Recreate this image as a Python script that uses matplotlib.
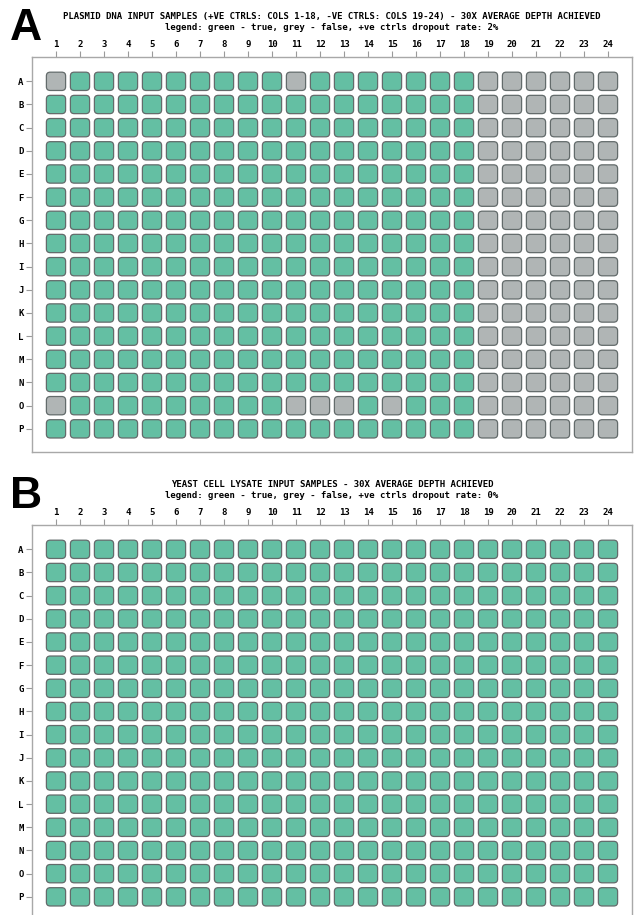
import matplotlib
matplotlib.use("Agg")
import matplotlib.pyplot as plt
from matplotlib.patches import FancyBboxPatch

# ---------------- data ----------------
rows = list("ABCDEFGHIJKLMNOP")
cols = list(range(1, 25))

# 1 = true (green), 0 = false (grey)
plasmid_wells = [
    "011111111101111111000000",  # A
    "111111111111111111000000",  # B
    "111111111111111111000000",  # C
    "111111111111111111000000",  # D
    "111111111111111111000000",  # E
    "111111111111111111000000",  # F
    "111111111111111111000000",  # G
    "111111111111111111000000",  # H
    "111111111111111111000000",  # I
    "111111111111111111000000",  # J
    "111111111111111111000000",  # K
    "111111111111111111000000",  # L
    "111111111111111111000000",  # M
    "111111111111111111000000",  # N
    "011111111100010111000000",  # O
    "111111111111111111000000",  # P
]
yeast_wells = [
    "111111111111111111111111",  # A
    "111111111111111111111111",  # B
    "111111111111111111111111",  # C
    "111111111111111111111111",  # D
    "111111111111111111111111",  # E
    "111111111111111111111111",  # F
    "111111111111111111111111",  # G
    "111111111111111111111111",  # H
    "111111111111111111111111",  # I
    "111111111111111111111111",  # J
    "111111111111111111111111",  # K
    "111111111111111111111111",  # L
    "111111111111111111111111",  # M
    "111111111111111111111111",  # N
    "111111111111111111111111",  # O
    "111111111111111111111111",  # P
]

panel_letters = ["A", "B"]
titles = [
    "PLASMID DNA INPUT SAMPLES (+VE CTRLS: COLS 1-18, -VE CTRLS: COLS 19-24) - 30X AVERAGE DEPTH ACHIEVED",
    "YEAST CELL LYSATE INPUT SAMPLES - 30X AVERAGE DEPTH ACHIEVED",
]
subtitles = [
    "legend: green - true, grey - false, +ve ctrls dropout rate: 2%",
    "legend: green - true, grey - false, +ve ctrls dropout rate: 0%",
]

GREEN = "#64bfa3"
GREY = "#b0b5b5"
EDGE = "#636b6b"
MONO = "DejaVu Sans Mono"

W, H = 635, 915
fig = plt.figure(figsize=(W / 100, H / 100), dpi=100)

def px_rect(left, top, right, bottom):
    return [left / W, 1 - bottom / H, (right - left) / W, (bottom - top) / H]

panels = [
    dict(data=plasmid_wells, rect=px_rect(32, 57, 632, 452), y0=0),
    dict(data=yeast_wells, rect=px_rect(32, 525, 632, 920), y0=468),
]

for p, letter, title, sub in zip(panels, panel_letters, titles, subtitles):
    ax = fig.add_axes(p["rect"])
    ax.set_xlim(0, len(cols) + 1)
    ax.set_ylim(len(rows) + 1, -0.05)
    bw, bh = 0.8, 0.79
    for ri, rstr in enumerate(p["data"]):
        for ci, ch in enumerate(rstr):
            x = cols[ci]
            y = ri + 1
            color = GREEN if ch == "1" else GREY
            box = FancyBboxPatch((x - bw / 2, y - bh / 2), bw, bh,
                                 boxstyle="round,pad=0,rounding_size=0.16",
                                 facecolor=color, edgecolor=EDGE, linewidth=0.9)
            ax.add_patch(box)
    ax.xaxis.tick_top()
    ax.set_xticks(cols)
    ax.set_xticklabels([str(c) for c in cols], fontfamily=MONO,
                       fontweight="bold", fontsize=6.5)
    ax.set_yticks(range(1, len(rows) + 1))
    ax.set_yticklabels(rows, fontfamily=MONO, fontweight="bold", fontsize=6.5)
    ax.tick_params(axis="both", length=4, width=0.8, color="#9a9a9a",
                   pad=2, labelcolor="black")
    for s in ax.spines.values():
        s.set_color("#a8a8a8")
        s.set_linewidth(1.0)

    y0 = p["y0"]
    fig.text(332 / W, 1 - (y0 + 16.5) / H, title, ha="center", va="center",
             fontfamily=MONO, fontweight="bold", fontsize=6.5)
    fig.text(332 / W, 1 - (y0 + 27) / H, sub, ha="center", va="center",
             fontfamily=MONO, fontweight="bold", fontsize=6.5)
    fig.text(10 / W, 1 - (y0 + 40) / H, letter, ha="left", va="baseline",
             fontfamily="Liberation Sans", fontweight="bold", fontsize=32)

fig.savefig("out.png", dpi=100)
